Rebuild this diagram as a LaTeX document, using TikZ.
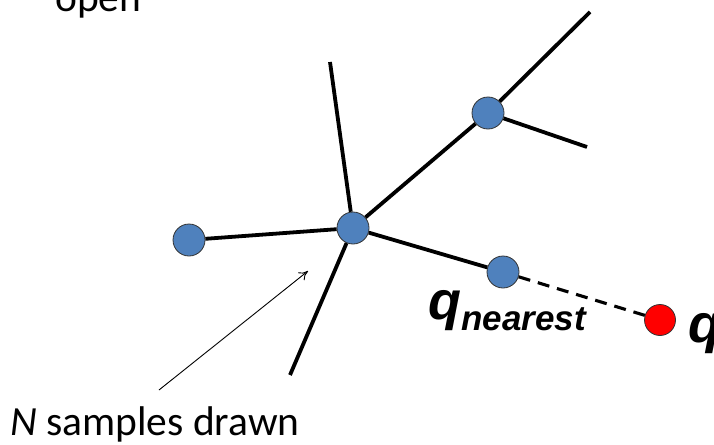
\documentclass[tikz,border=0pt]{standalone}
\usepackage{fontspec}
\setmainfont{Carlito}
\newfontfamily\labelfont{Liberation Sans}
\usetikzlibrary{arrows.meta,positioning}
\definecolor{sampleblue}{HTML}{4F81BD}

\begin{document}
\begin{tikzpicture}[
  x=1pt,y=-1pt,
  sample/.style={circle,draw=black!80,line width=0.8pt,fill=sampleblue,
    minimum size=32pt,inner sep=0pt},
  goal/.style={sample,fill=red,minimum size=31pt},
  branch/.style={line width=3.8pt},
  arrow/.style={-{To[length=9pt,width=10pt]},line width=0.9pt},
  txt/.style={anchor=base west,inner sep=0pt,font=\fontsize{41.5}{46}\selectfont},
  qlabel/.style={anchor=base west,inner sep=0pt,
    font=\labelfont\bfseries\itshape\fontsize{54}{54}\selectfont}
]
\useasboundingbox (0,0) rectangle (714,444);
% tree nodes
\node[sample] (center) at (353,228) {};
\node[sample] (left) at (189,240) {};
\node[sample] (upper) at (488,113) {};
\node[sample] (nearest) at (503,272) {};
\node[goal] (q) at (660,320) {};
\coordinate (top) at (330,62);
\coordinate (bottom) at (290,375);
\coordinate (tip) at (590,12);
\coordinate (side) at (587,147);
% edges of the tree
\draw[branch] (center)--(top);
\draw[branch] (center)--(bottom);
\draw[branch] (center)--(left);
\draw[branch] (center)--(upper);
\draw[branch] (upper)--(tip);
\draw[branch] (upper)--(side);
\draw[branch] (center)--(nearest);
\draw[line width=3.1pt,dash pattern=on 12pt off 8pt] (nearest)--(q);
% labels
\node[txt] (open) at (55,12) {open};
\node[txt] (drawn) at (10,435) {\textit{N} samples drawn};
\coordinate (tail) at (159,390);
\coordinate (head) at (308,271);
\draw[arrow] (tail)--(head);
\node[qlabel] (qnear) at (428,319) {q\raisebox{-11pt}{\fontsize{35}{35}\selectfont nearest}};
\node[qlabel] (qlab) at (688,342) {q};
\end{tikzpicture}
\end{document}
